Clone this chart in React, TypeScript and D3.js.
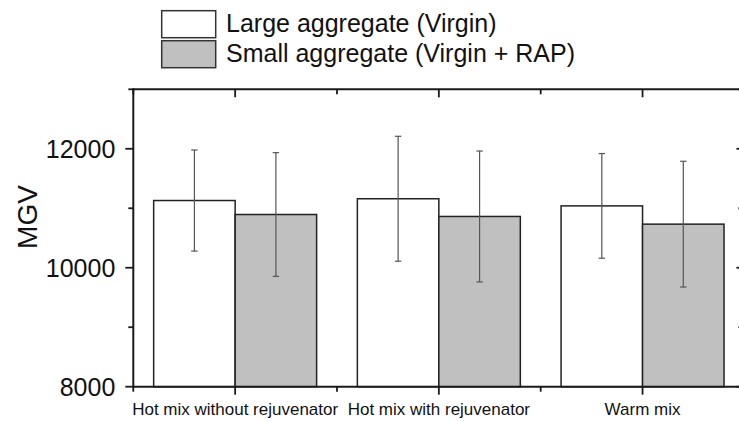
import React from "react";
import * as d3 from "d3";

const categories = ["Hot mix without rejuvenator", "Hot mix with rejuvenator", "Warm mix"];
const largeMean = [11130, 11160, 11040];
const largeSd = [850, 1050, 880];
const smallMean = [10895, 10862, 10733];
const smallSd = [1040, 1100, 1057];
const seriesNames = ["Large aggregate (Virgin)", "Small aggregate (Virgin + RAP)"];
const yMajorTicks = [8000, 10000, 12000];
const yMinorTicks = [9000, 11000, 13000];

const W = 739;
const H = 421;
const FONT = "'Liberation Sans', Arial, Helvetica, sans-serif";
const AXIS = "#1a1a1a";

export default function App() {
  const left = 133.3;
  const right = 744.4;
  const top = 89.3;
  const bottom = 386.7;

  const x = d3.scaleLinear().domain([0.5, 3.5]).range([left, right]);
  const y = d3.scaleLinear().domain([8000, 13000]).range([bottom, top]);
  const barW = 0.4;

  const series = [
    { mean: largeMean, sd: largeSd, fill: "#ffffff", offset: -barW },
    { mean: smallMean, sd: smallSd, fill: "#c0c0c0", offset: 0 },
  ];

  const catCenters = categories.map((_, i) => i + 1);
  const xMinor = [0.5, 1.5, 2.5, 3.5];
  const capHalf = 3.2;

  return (
    <svg
      width={W}
      height={H}
      style={{ position: "absolute", left: 0, top: 0, background: "#fff" }}
      fontFamily={FONT}
    >
      <rect x={0} y={0} width={W} height={H} fill="#fff" />

      {/* bars */}
      {series.map((s, si) =>
        s.mean.map((v, i) => {
          const x0 = x(i + 1 + s.offset);
          const x1 = x(i + 1 + s.offset + barW);
          return (
            <rect
              key={`b${si}-${i}`}
              x={x0}
              y={y(v)}
              width={x1 - x0}
              height={y(8000) - y(v)}
              fill={s.fill}
              stroke="#222"
              strokeWidth={1.5}
            />
          );
        })
      )}

      {/* error bars */}
      {series.map((s, si) =>
        s.mean.map((v, i) => {
          const cx = x(i + 1 + s.offset + barW / 2);
          const hi = y(v + s.sd[i]);
          const lo = y(v - s.sd[i]);
          return (
            <g key={`e${si}-${i}`} stroke="#555" strokeWidth={1.2}>
              <line x1={cx} x2={cx} y1={hi} y2={lo} />
              <line x1={cx - capHalf} x2={cx + capHalf} y1={hi} y2={hi} />
              <line x1={cx - capHalf} x2={cx + capHalf} y1={lo} y2={lo} />
            </g>
          );
        })
      )}

      {/* frame */}
      <g stroke={AXIS} strokeWidth={2} fill="none">
        <line x1={left} x2={left} y1={top - 1} y2={bottom + 1} />
        <line x1={right} x2={right} y1={top - 1} y2={bottom + 1} />
        <line x1={left} x2={right} y1={top} y2={top} />
        <line x1={left} x2={right} y1={bottom} y2={bottom} />
      </g>

      {/* x ticks: bottom outward, top inward */}
      <g stroke={AXIS} strokeWidth={1.8}>
        {catCenters.map((c) => (
          <g key={`xt${c}`}>
            <line x1={x(c)} x2={x(c)} y1={bottom} y2={bottom + 8} />
            <line x1={x(c)} x2={x(c)} y1={top} y2={top + 8} />
          </g>
        ))}
        {xMinor.map((c) => (
          <g key={`xm${c}`}>
            <line x1={x(c)} x2={x(c)} y1={bottom} y2={bottom + 5} />
            <line x1={x(c)} x2={x(c)} y1={top} y2={top + 5} />
          </g>
        ))}
      </g>

      {/* y ticks: left outward, right inward */}
      <g stroke={AXIS} strokeWidth={1.8}>
        {yMajorTicks.map((t) => (
          <g key={`yt${t}`}>
            <line x1={left - 8} x2={left} y1={y(t)} y2={y(t)} />
            <line x1={right - 8} x2={right} y1={y(t)} y2={y(t)} />
          </g>
        ))}
        {yMinorTicks.map((t) => (
          <g key={`ym${t}`}>
            <line x1={left - 5} x2={left} y1={y(t)} y2={y(t)} />
            <line x1={right - 6} x2={right} y1={y(t)} y2={y(t)} />
          </g>
        ))}
      </g>

      {/* y tick labels */}
      {yMajorTicks.map((t) => (
        <text
          key={`yl${t}`}
          x={left - 18}
          y={y(t)}
          dy="0.36em"
          textAnchor="end"
          fontSize={25}
          fill="#111"
        >
          {t}
        </text>
      ))}

      {/* x tick labels */}
      {categories.map((c, i) => (
        <text
          key={`xl${i}`}
          x={x(i + 1)}
          y={415}
          textAnchor="middle"
          fontSize={17}
          fill="#111"
        >
          {c}
        </text>
      ))}

      {/* y axis title */}
      <text
        transform={`translate(37, 217) rotate(-90)`}
        textAnchor="middle"
        fontSize={28}
        fill="#111"
      >
        MGV
      </text>

      {/* legend */}
      {seriesNames.map((name, i) => (
        <g key={`lg${i}`}>
          <rect
            x={161.7}
            y={10.7 + i * 30}
            width={54}
            height={27}
            fill={series[i].fill}
            stroke="#333"
            strokeWidth={1.5}
          />
          <text x={226} y={32 + i * 30} fontSize={25} fill="#111">
            {name}
          </text>
        </g>
      ))}
    </svg>
  );
}
